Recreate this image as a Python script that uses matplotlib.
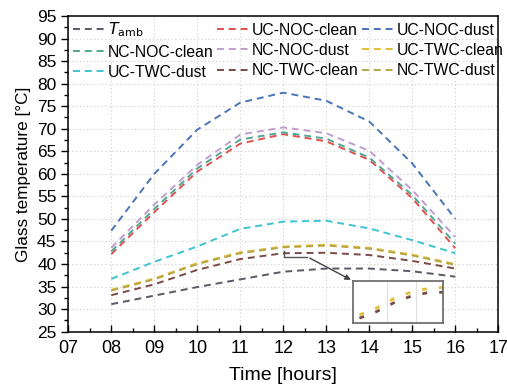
import numpy as np
import matplotlib
matplotlib.use("Agg")
import matplotlib.pyplot as plt

plt.rcParams['font.family'] = ['Liberation Sans', 'DejaVu Sans']
plt.rcParams['lines.scale_dashes'] = False

hours = [8, 9, 10, 11, 12, 13, 14, 15, 16]
x_ticks = [7, 8, 9, 10, 11, 12, 13, 14, 15, 16, 17]
x_tick_labels = ["07", "08", "09", "10", "11", "12", "13", "14", "15", "16", "17"]
y_ticks = [25, 30, 35, 40, 45, 50, 55, 60, 65, 70, 75, 80, 85, 90, 95]

t_amb        = [31.1, 33.0, 34.9, 36.6, 38.3, 39.0, 39.0, 38.4, 37.2]
uc_noc_clean = [42.2, 51.5, 60.5, 66.7, 68.8, 67.2, 63.1, 54.6, 43.5]
uc_noc_dust  = [47.4, 60.0, 69.8, 75.8, 78.0, 76.2, 71.6, 62.3, 50.0]
nc_noc_clean = [42.8, 52.2, 61.2, 67.6, 69.2, 67.8, 63.6, 55.3, 44.5]
nc_noc_dust  = [43.6, 53.2, 62.0, 68.7, 70.3, 69.0, 65.1, 56.4, 46.0]
uc_twc_clean = [34.3, 36.8, 40.2, 42.6, 43.9, 44.3, 43.6, 42.1, 40.0]
uc_twc_dust  = [36.7, 40.5, 43.9, 47.8, 49.4, 49.6, 47.9, 45.3, 42.4]
nc_twc_clean = [33.1, 35.5, 38.7, 41.1, 42.4, 42.5, 42.0, 40.7, 39.0]
nc_twc_dust  = [34.1, 36.6, 40.0, 42.4, 43.7, 44.1, 43.4, 41.9, 39.8]

series = [
    (r"$T_{\mathrm{amb}}$", t_amb, "#5a5866"),
    ("UC-NOC-clean", uc_noc_clean, "#e0504f"),
    ("UC-NOC-dust", uc_noc_dust, "#4a74b8"),
    ("NC-NOC-clean", nc_noc_clean, "#4fa892"),
    ("NC-NOC-dust", nc_noc_dust, "#c09ed0"),
    ("UC-TWC-clean", uc_twc_clean, "#e2bf3a"),
    ("UC-TWC-dust", uc_twc_dust, "#3cc4d0"),
    ("NC-TWC-clean", nc_twc_clean, "#7a4a48"),
    ("NC-TWC-dust", nc_twc_dust, "#b6a646"),
]

fig = plt.figure(figsize=(5.07, 3.89), dpi=100)
ax = fig.add_axes([0.1347, 0.1473, 0.9828 - 0.1347, 0.9589 - 0.1473])

handles = []
for label, vals, color in series:
    h, = ax.plot(hours, vals, color=color, lw=1.4, linestyle=(0, (5, 3.5)), label=label)
    handles.append(h)

ax.set_xlim(7, 17)
ax.set_ylim(25, 95)
ax.set_xticks(x_ticks)
ax.set_xticklabels(x_tick_labels)
ax.set_yticks(y_ticks)
ax.set_xticks(np.arange(7.5, 17, 1), minor=True)
ax.set_yticks(np.arange(27.5, 95, 5), minor=True)
ax.tick_params(axis='x', which='both', direction='in', labelsize=13, pad=6)
ax.tick_params(axis='y', which='both', direction='out', labelsize=12.5)
ax.tick_params(which='major', length=5, width=1)
ax.tick_params(which='minor', length=3, width=1)
ax.grid(True, which='major', color='#d6d6d6', lw=0.8, linestyle=':')
for s in ax.spines.values():
    s.set_linewidth(1.1)

ax.set_xlabel("Time [hours]", fontsize=14, labelpad=7)
ax.set_ylabel("Glass temperature [°C]", fontsize=12.3, labelpad=4)

# legend: row-wise ordering in 3 columns
order = [0, 3, 6, 1, 4, 7, 2, 5, 8]
ax.legend([handles[i] for i in order], [handles[i].get_label() for i in order],
          ncol=3, loc='upper left', bbox_to_anchor=(0.0, 1.0), frameon=False,
          fontsize=11.3, handlelength=2.15, handletextpad=0.08, columnspacing=0.2,
          labelspacing=0.33, borderaxespad=0.1, borderpad=0.2)

# annotation pointer to inset
ax.plot([12.02, 12.02, 12.56], [42.9, 41.6, 41.6], color='#555555', lw=1.0)
ax.annotate("", xy=(13.63, 36.2), xytext=(12.56, 41.6),
            arrowprops=dict(arrowstyle='-|>', color='#444444', lw=1.0, mutation_scale=8))

# inset
x0, x1 = 13.63, 15.72
y0, y1 = 26.9, 36.2
ins = ax.inset_axes([x0, y0, x1 - x0, y1 - y0], transform=ax.transData)
for idx in [5, 7]:
    label, vals, color = series[idx]
    ins.plot(hours, vals, color=color, lw=2.0, linestyle=(0, (3.5, 8.7)))
ins.set_xlim(7.65, 12.85)
ins.set_ylim(31.3, 46.5)
ins.set_xticks([9.6, 11.3])
ins.tick_params(left=False, bottom=False, labelleft=False, labelbottom=False)
ins.grid(True, axis='x', color='#e0e0e0', lw=0.8)
for s in ins.spines.values():
    s.set_color('#666666')
    s.set_linewidth(1.2)

fig.savefig("out.png", dpi=100)
